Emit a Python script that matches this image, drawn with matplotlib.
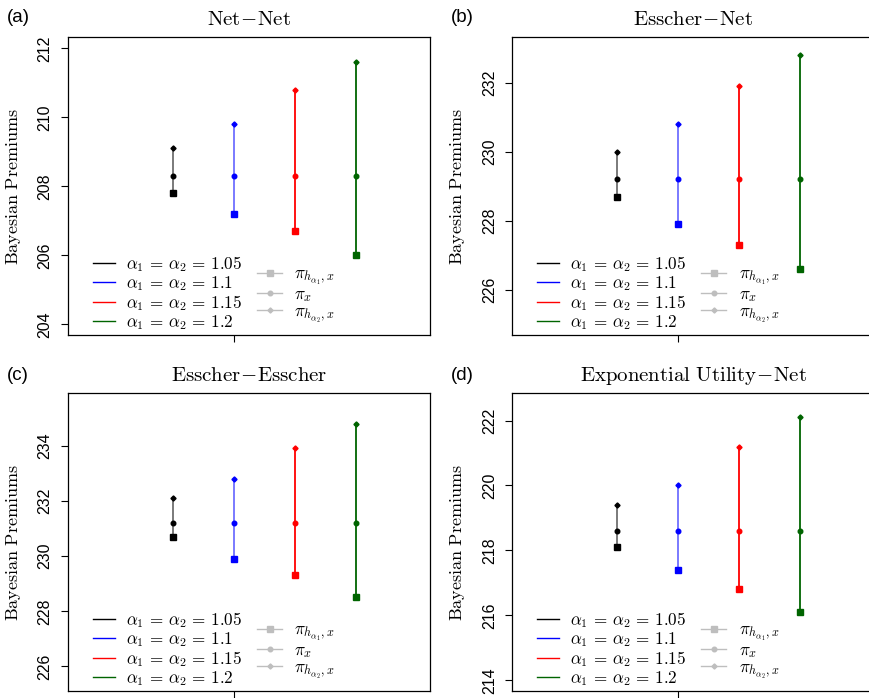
import numpy as np
import matplotlib
matplotlib.use("Agg")
import matplotlib.pyplot as plt
from matplotlib.lines import Line2D

plt.rcParams['mathtext.fontset'] = 'cm'
plt.rcParams['font.family'] = ['Liberation Sans', 'DejaVu Sans']

# -------------------------------
# Data
# -------------------------------
alphas = ["1.05", "1.1", "1.15", "1.2"]
xpos = [1, 2, 3, 4]

titles = [r"$\mathrm{Net}\!-\!\mathrm{Net}$",
          r"$\mathrm{Esscher}\!-\!\mathrm{Net}$",
          r"$\mathrm{Esscher}\!-\!\mathrm{Esscher}$",
          r"$\mathrm{Exponential\ Utility}\!-\!\mathrm{Net}$"]
letters = ["(a)", "(b)", "(c)", "(d)"]

net_net_low = [207.8, 207.2, 206.7, 206.0]
net_net_mid = [208.3, 208.3, 208.3, 208.3]
net_net_high = [209.1, 209.8, 210.8, 211.6]

esscher_net_low = [228.7, 227.9, 227.3, 226.6]
esscher_net_mid = [229.2, 229.2, 229.2, 229.2]
esscher_net_high = [230.0, 230.8, 231.9, 232.8]

esscher_esscher_low = [230.7, 229.9, 229.3, 228.5]
esscher_esscher_mid = [231.2, 231.2, 231.2, 231.2]
esscher_esscher_high = [232.1, 232.8, 233.9, 234.8]

expo_net_low = [218.1, 217.4, 216.8, 216.1]
expo_net_mid = [218.6, 218.6, 218.6, 218.6]
expo_net_high = [219.4, 220.0, 221.2, 222.1]

lows = [net_net_low, esscher_net_low, esscher_esscher_low, expo_net_low]
mids = [net_net_mid, esscher_net_mid, esscher_esscher_mid, expo_net_mid]
highs = [net_net_high, esscher_net_high, esscher_esscher_high, expo_net_high]

ylims = [(204, 212), (225, 233), (225.5, 235.5), (214, 222.5)]
yticks = [np.arange(204, 213, 2), np.arange(226, 233, 2),
          np.arange(226, 235, 2), np.arange(214, 223, 2)]

colors = ['black', 'blue', 'red', 'darkgreen']
line_colors = ['#707070', '#7070ff', 'red', 'darkgreen']
gray = '#bebebe'

# -------------------------------
# Figure
# -------------------------------
W, H = 869, 698
fig = plt.figure(figsize=(W / 100, H / 100), dpi=100)

boxes = [(68, 37.3), (512.3, 37.3), (68, 393.3), (512.3, 393.3)]
bw, bh = 362, 298


def expand(lo, hi):
    d = (hi - lo) * 0.04
    return lo - d, hi + d


for k in range(4):
    x0, y0 = boxes[k]
    ax = fig.add_axes([x0 / W, 1 - (y0 + bh) / H, bw / W, bh / H])

    for i in range(4):
        ax.plot([xpos[i], xpos[i]], [lows[k][i], highs[k][i]],
                color=line_colors[i], lw=1.3, zorder=1)
        ax.plot(xpos[i], lows[k][i], 's', color=colors[i], ms=4.6, zorder=3)
        ax.plot(xpos[i], mids[k][i], 'o', color=colors[i], ms=3.3, zorder=3)
        ax.plot(xpos[i], highs[k][i], 'D', color=colors[i], ms=2.6, zorder=3)

    ax.set_xlim(*expand(-0.5, 5))
    ax.set_ylim(*expand(*ylims[k]))
    ax.set_xticks([2])
    ax.set_xticklabels([''])
    ax.set_yticks(yticks[k])
    ax.set_yticklabels([str(v) for v in yticks[k]], rotation=90, va='center')
    ax.tick_params(axis='both', length=5, width=0.8, labelsize=11.5, pad=6)

    for s in ax.spines.values():
        s.set_linewidth(0.9)

    ax.set_title(titles[k], fontsize=15, pad=9)
    ax.set_ylabel(r"$\mathrm{Bayesian\ Premiums}$", fontsize=13)
    ax.yaxis.set_label_coords(-0.124, 0.5)

    # legends
    h1 = [Line2D([], [], color=c, lw=1.0) for c in colors]
    l1 = [r"$\alpha_1\,=\,\alpha_2\,=\,%s$" % a for a in alphas]
    leg1 = ax.legend(h1, l1, loc='lower left', bbox_to_anchor=(0.069, 0.012),
                     frameon=False, fontsize=12.3, handlelength=1.26,
                     handletextpad=0.66, labelspacing=0.0, borderpad=0,
                     borderaxespad=0)
    ax.add_artist(leg1)

    h2 = [Line2D([], [], color=gray, lw=1.0, marker='s', ms=4.5),
          Line2D([], [], color=gray, lw=1.0, marker='o', ms=3.3),
          Line2D([], [], color=gray, lw=1.0, marker='D', ms=2.6)]
    l2 = [r"$\pi_{h_{\alpha_1},x}$", r"$\pi_x$", r"$\pi_{h_{\alpha_2},x}$"]
    ax.legend(h2, l2, loc='lower left', bbox_to_anchor=(0.522, 0.035),
              frameon=False, fontsize=12.5, handlelength=1.45,
              handletextpad=0.7, labelspacing=0.0, borderpad=0,
              borderaxespad=0)

    fig.text((x0 - 61) / W, 1 - 17 / H if k < 2 else 1 - 375 / H,
             letters[k], fontsize=13.5, va='center', ha='left')

fig.savefig("out.png", dpi=100)
